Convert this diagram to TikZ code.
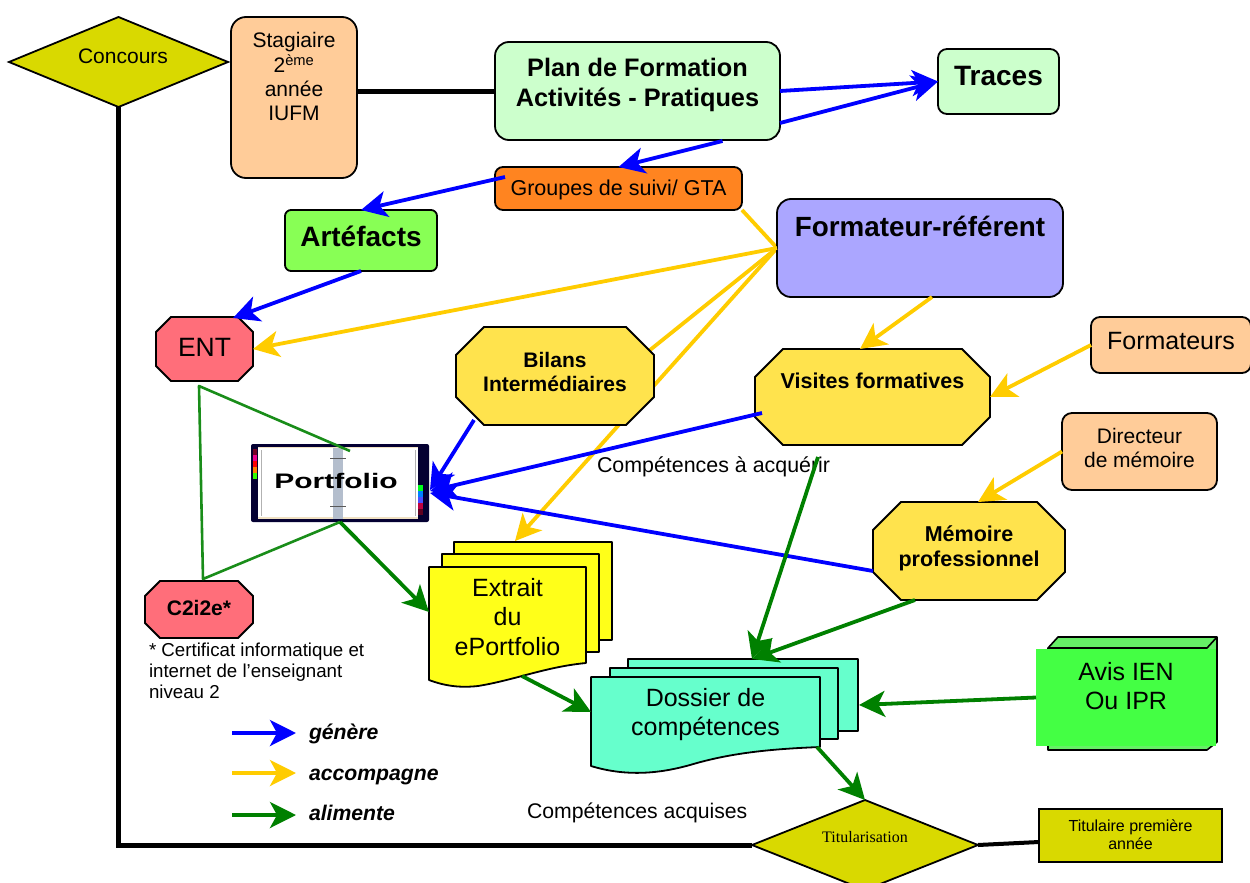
\documentclass[tikz,border=0pt]{standalone}
\usepackage{fontspec}
\setmainfont{Liberation Sans}
\newfontfamily\timesf{Liberation Serif}
\usetikzlibrary{shapes.geometric,arrows.meta,calc,backgrounds}
\definecolor{cbleu}{HTML}{0000FF}
\definecolor{cjaune}{HTML}{FFCC00}
\definecolor{cvert}{HTML}{008000}
\definecolor{colive}{HTML}{D9D900}
\definecolor{cpeche}{HTML}{FFCC99}
\definecolor{cmenthe}{HTML}{CCFFCC}
\definecolor{corange}{HTML}{FF8420}
\definecolor{clime}{HTML}{88FF55}
\definecolor{clilas}{HTML}{ABA6FF}
\definecolor{crose}{HTML}{FF6E7A}
\definecolor{csoleil}{HTML}{FFE34D}
\definecolor{ccitron}{HTML}{FFFF19}
\definecolor{cturq}{HTML}{66FFCC}
\definecolor{cavis}{HTML}{44FF44}
\definecolor{cavisb}{HTML}{66EE66}
\definecolor{cnavy}{HTML}{040032}
\definecolor{ccreme}{HTML}{F0E1C3}
\definecolor{cspine}{HTML}{B4BECD}
\newcommand\tx[4]{\fontsize{#1}{#2}\selectfont\raisebox{#3}[0pt][0pt]{\begin{tabular}{@{}c@{}}#4\end{tabular}}}
\newdimen\octxa \newdimen\octya \newdimen\octxb \newdimen\octyb
\def\octoc{15pt}
\makeatletter
\pgfdeclareshape{octogone}{%
  \inheritsavedanchors[from=rectangle]%
  \inheritanchorborder[from=rectangle]%
  \inheritanchor[from=rectangle]{center}%
  \inheritanchor[from=rectangle]{north}%
  \inheritanchor[from=rectangle]{south}%
  \inheritanchor[from=rectangle]{east}%
  \inheritanchor[from=rectangle]{west}%
  \backgroundpath{%
    \southwest \octxa=\pgf@x \octya=\pgf@y
    \northeast \octxb=\pgf@x \octyb=\pgf@y
    \pgfpathmoveto{\pgfpoint{\octxa+\octoc}{\octya}}%
    \pgfpathlineto{\pgfpoint{\octxb-\octoc}{\octya}}%
    \pgfpathlineto{\pgfpoint{\octxb}{\octya+\octoc}}%
    \pgfpathlineto{\pgfpoint{\octxb}{\octyb-\octoc}}%
    \pgfpathlineto{\pgfpoint{\octxb-\octoc}{\octyb}}%
    \pgfpathlineto{\pgfpoint{\octxa+\octoc}{\octyb}}%
    \pgfpathlineto{\pgfpoint{\octxa}{\octyb-\octoc}}%
    \pgfpathlineto{\pgfpoint{\octxa}{\octya+\octoc}}%
    \pgfpathclose
  }%
}
\makeatother
\tikzset{
  box/.style={draw=black,line width=1.8pt,inner sep=0pt,outer sep=0pt,align=center},
  rbox/.style={box,rounded corners=#1},
  octo/.style={box,shape=octogone,/utils/exec={\def\octoc{#1}}},
  losange/.style={box,diamond,fill=colive,aspect=2},
  txt/.style={inner sep=0pt,outer sep=0pt,anchor=base west},
  head/.style={-{Stealth[length=26pt,width=26pt,inset=7pt]}},
  gen/.style={head,draw=cbleu,line width=3.8pt},
  acc/.style={head,draw=cjaune,line width=3.8pt},
  ali/.style={head,draw=cvert,line width=3.8pt},
  accl/.style={draw=cjaune,line width=3.8pt},
  noir/.style={draw=black,line width=5pt},
  tri/.style={draw=cvert!90!white,line width=2.6pt,line join=round},
  stack/.style={draw=black,line width=1.8pt,line join=round},
}
\begin{document}
\begin{tikzpicture}[x=1pt,y=-1pt]
\useasboundingbox (0,0) rectangle (1250,883);
\clip (0,0) rectangle (1250,883);
% stacked documents
\draw[stack,fill=ccitron] (454,542) rectangle (612,640);
\draw[stack,fill=ccitron] (442,554) rectangle (599,652);
\draw[stack,fill=ccitron] (429,567) -- (586,567) -- (586,663) .. controls (545,667) and (515,680) .. (478,686) .. controls (460,688) and (445,686) .. (429,680) -- cycle;
\draw[stack,fill=cturq] (628,659) rectangle (858,731);
\draw[stack,fill=cturq] (610,668) rectangle (838,739);
\draw[stack,fill=cturq] (591,677) -- (820,677) -- (820,747) .. controls (770,749) and (730,753) .. (690,765) .. controls (665,772) and (630,778) .. (591,766) -- cycle;
% box behind Avis
\draw[stack,line width=1.6pt,fill=cavisb] (1048,648) -- (1058,637) -- (1217,637) -- (1217,742) -- (1207,750) -- (1048,750) -- cycle;
\draw[stack,line width=1.6pt] (1048,648) -- (1207,648) -- (1217,637);
% nodes
\node[losange,minimum width=219pt,minimum height=90pt] (concours) at (118.5,62) {\hspace*{9pt}\tx{21}{24}{-2pt}{Concours}};
\node[rbox=15pt,fill=cpeche,minimum width=126pt,minimum height=161pt] (stag) at (294,97.5) {\tx{21}{24}{13pt}{Stagiaire\\2\textsuperscript{ème}\\année\\IUFM}};
\node[rbox=14pt,fill=cmenthe,minimum width=285pt,minimum height=98pt] (plan) at (637.5,91) {\bfseries\tx{25.3}{30}{-1pt}{Plan de Formation\\Activités - Pratiques}};
\node[rbox=9pt,fill=cmenthe,minimum width=121pt,minimum height=65pt] (traces) at (998.5,81.5) {\bfseries\tx{28}{32}{-4pt}{Traces}};
\node[rbox=8pt,fill=corange,minimum width=247pt,minimum height=43pt] (groupes) at (618.5,188.5) {\tx{21.5}{24}{-7pt}{Groupes de suivi/ GTA}};
\node[rbox=6pt,fill=clime,minimum width=152pt,minimum height=61pt] (artefacts) at (361,240.5) {\bfseries\tx{28}{32}{-6pt}{Artéfacts}};
\node[rbox=14pt,fill=clilas,minimum width=286pt,minimum height=98pt] (formateur) at (920,248) {\bfseries\tx{27.8}{32}{12pt}{Formateur-référent}};
\node[octo=15pt,fill=crose,minimum width=97pt,minimum height=64pt] (ent) at (204.5,349) {\tx{26.5}{30}{-8pt}{ENT}};
\node[octo=28pt,fill=csoleil,minimum width=198pt,minimum height=98pt] (bilans) at (555,376) {\bfseries\tx{21}{24}{-4pt}{Bilans\\Intermédiaires}};
\node[octo=28pt,fill=csoleil,minimum width=235pt,minimum height=96pt] (visites) at (872.5,397) {\bfseries\tx{21.5}{24}{8pt}{Visites formatives}};
\node[rbox=9pt,fill=cpeche,minimum width=160pt,minimum height=56pt] (formateurs) at (1171,345) {\tx{25}{28}{-5pt}{Formateurs}};
\node[rbox=10pt,fill=cpeche,minimum width=155pt,minimum height=77pt] (directeur) at (1139.5,451.5) {\tx{21}{24}{-4pt}{Directeur\\de mémoire}};
\node[octo=28pt,fill=csoleil,minimum width=192pt,minimum height=98pt] (memoire) at (969,551) {\bfseries\tx{21.5}{25}{-3pt}{Mémoire\\professionnel}};
\node[octo=15pt,fill=crose,minimum width=108pt,minimum height=57pt] (c2) at (199,609.5) {\bfseries\tx{21}{24}{-6pt}{C2i2e*}};
\node[inner sep=0pt,outer sep=0pt,minimum width=157pt,minimum height=96pt] (extrait) at (507.5,615) {\tx{25}{29.5}{-11pt}{Extrait\\du\\ePortfolio}};
\node[inner sep=0pt,outer sep=0pt,minimum width=229pt,minimum height=70pt] (dossier) at (705.5,712) {\tx{25}{29}{-9pt}{Dossier de\\compétences}};
\node[inner sep=0pt,outer sep=0pt,fill=cavis,minimum width=180pt,minimum height=97pt] (avis) at (1126,697.5) {\tx{25}{29}{2pt}{Avis IEN\\Ou IPR}};
\node[losange,minimum width=226pt,minimum height=90pt] (titul) at (865,845) {\timesf\tx{16}{18}{2pt}{Titularisation}};
\node[box,fill=colive,minimum width=183pt,minimum height=53pt] (titulaire) at (1130.5,835.5) {\tx{16}{18}{-6pt}{Titulaire première\\année}};
% portfolio picture
\node[fill=cnavy,rounded corners=2pt,inner sep=0pt,outer sep=0pt,minimum width=178pt,minimum height=78pt] (portfolio) at (340,483) {};
\fill[white] (258,447) rectangle (418,519);
\draw[draw=ccreme,line width=1.5pt] (258,447.5) -- (418,447.5) (258,518) -- (418,518);
\draw[draw=gray!60,line width=1pt] (261,450) -- (261,516) (415,450) -- (415,516);
\fill[cspine] (333,448) rectangle (343,519);
\draw[gray!70!black,line width=1pt] (330,458) -- (346,458) (330,506) -- (346,506);
\foreach \yy/\cc in {449/purple!60!black,455/magenta,461/red,467/orange,473/green!80!yellow}
  \fill[\cc] (253,\yy) rectangle (257,\yy+6);
\foreach \yy/\cc in {485/green!90!cyan,491/blue!50!cyan,497/blue!70,503/purple,509/purple!50!black}
  \fill[\cc] (418,\yy) rectangle (423,\yy+6);
\node[inner sep=0pt] (ptext) at (336,481) {\bfseries\fontsize{21}{24}\selectfont\scalebox{1.43}[1]{Portfolio}};
% triangle
\coordinate (triA) at (199,386);
\coordinate (triB) at (203,579);
\draw[tri] ($(portfolio)+(10,-32)$) -- (triA) -- (triB) -- (portfolio.south);
% yellow connectors
\begin{pgfonlayer}{background}
\draw[acc] (formateur.west) -- ($(extrait)+(7.5,-74)$);
\draw[accl] ($(bilans)+(95,-26)$) -- (formateur.west);
\draw[accl] (groupes.south east) -- (formateur.west);
\end{pgfonlayer}
\draw[acc] (formateur.west) -- (ent.east);
\draw[acc] ($(formateur)+(12,49)$) -- ($(visites)+(-12.5,-48)$);
\draw[acc] (formateurs.west) -- (visites.east);
\draw[acc] (directeur.west) -- ($(memoire)+(9,-49)$);
% blue connectors
\draw[gen] (plan.east) -- (traces.west);
\draw[gen] ($(plan)+(142.5,32)$) -- (traces.west);
\draw[gen] ($(plan)+(85,50)$) -- (groupes.north);
\draw[gen] ($(groupes)+(-113.5,-11.5)$) -- (artefacts.north);
\draw[gen] (artefacts.south) -- ($(ent)+(28.5,-31)$);
\draw[gen] ($(bilans)+(-81,44)$) -- ($(portfolio)+(90,7)$);
\draw[gen] ($(visites)+(-110.5,16)$) -- ($(portfolio)+(90,8)$);
\draw[gen] ($(memoire)+(-96,20)$) -- ($(portfolio)+(90,10)$);
% free texts
\node[txt] (acq) at (597,472) {\fontsize{21.4}{24}\selectfont Compétences à acquérir};
\node[txt] (acquises) at (527,818) {\fontsize{21.2}{24}\selectfont Compétences acquises};
\node[inner sep=0pt,outer sep=0pt,align=left,anchor=north west,font=\fontsize{18.7}{21}\selectfont] (note) at (149,643) {* Certificat informatique et\\internet de l’enseignant\\niveau 2};
% green connectors
\draw[ali] (portfolio.south) -- ($(extrait)+(-78.5,-3)$);
\draw[ali] ($(extrait)+(14.5,61)$) -- (dossier.west);
\draw[ali] ($(visites)+(-54.5,60)$) -- ($(dossier)+(46.5,-53)$);
\draw[ali] ($(memoire)+(-54,49)$) -- ($(dossier)+(46.5,-53)$);
\draw[ali] (avis.west) -- ($(dossier)+(153.5,-7)$);
\draw[ali] ($(dossier)+(111.5,35)$) -- (titul.north);
% black connectors
\draw[noir] (concours.south) |- (titul.west);
\draw[noir] ($(stag)+(63,-6.5)$) -- (plan.west);
\draw[noir,line width=4pt] (titul.east) -- ($(titulaire)+(-91.5,6.5)$);
% legend
\coordinate (lg1a) at (232,733); \coordinate (lg1b) at (296,733);
\coordinate (lg2a) at (232,773); \coordinate (lg2b) at (296,773);
\coordinate (lg3a) at (232,815); \coordinate (lg3b) at (296,815);
\draw[gen] (lg1a) -- (lg1b);
\draw[acc] (lg2a) -- (lg2b);
\draw[ali] (lg3a) -- (lg3b);
\node[txt] (lgen) at (309,739) {\bfseries\itshape\fontsize{21.2}{24}\selectfont génère};
\node[txt] (lacc) at (309,780) {\bfseries\itshape\fontsize{21.2}{24}\selectfont accompagne};
\node[txt] (lali) at (309,820) {\bfseries\itshape\fontsize{21.2}{24}\selectfont alimente};
\end{tikzpicture}
\end{document}
